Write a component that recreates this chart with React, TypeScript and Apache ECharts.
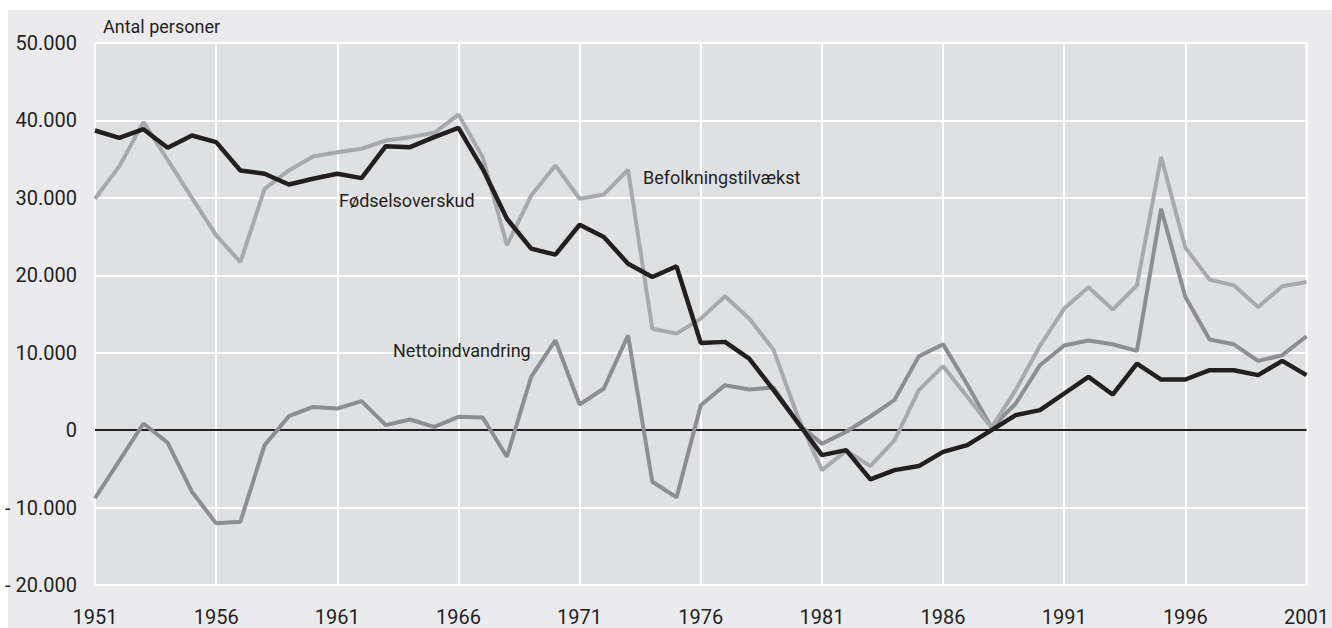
import React, { useEffect, useRef } from "react";
import * as echarts from "echarts";

const years = [
  "1951","1952","1953","1954","1955","1956","1957","1958","1959","1960",
  "1961","1962","1963","1964","1965","1966","1967","1968","1969","1970",
  "1971","1972","1973","1974","1975","1976","1977","1978","1979","1980",
  "1981","1982","1983","1984","1985","1986","1987","1988","1989","1990",
  "1991","1992","1993","1994","1995","1996","1997","1998","1999","2000","2001",
];

const foedselsoverskud = [
  38700, 37750, 38870, 36460, 38050, 37200, 33540, 33110, 31730, 32460,
  33110, 32550, 36680, 36550, 37840, 39040, 33750, 27300, 23440, 22660,
  26530, 24940, 21500, 19780, 21160, 11270, 11400, 9250, 5200, 1000,
  -3225, -2580, -6360, -5160, -4640, -2800, -1935, 0, 1935, 2580,
  4730, 6880, 4600, 8600, 6540, 6540, 7740, 7740, 7100, 8940, 7100,
];

const befolkningstilvaekst = [
  29890, 34060, 39780, 34900, 30000, 25150, 21700, 31170, 33540, 35350,
  35900, 36340, 37410, 37840, 38400, 40760, 35260, 23870, 30300, 34190,
  29890, 30440, 33630, 13100, 12470, 14400, 17300, 14430, 10400, 1800,
  -5160, -2670, -4640, -1290, 5160, 8260, 4300, 300, 5200, 10900,
  15700, 18450, 15570, 18700, 35260, 23560, 19440, 18700, 15910, 18580, 19140,
];

const nettoindvandring = [
  -8800, -3960, 860, -1630, -7950, -12040, -11830, -1935, 1800, 3000,
  2800, 3740, 645, 1376, 430, 1720, 1630, -3440, 6880, 11610,
  3310, 5375, 12260, -6670, -8690, 3225, 5810, 5260, 5510, 900,
  -1760, -200, 1760, 3920, 9550, 11080, 5900, 300, 3440, 8390,
  10930, 11570, 11090, 10230, 28600, 17200, 11700, 11090, 8940, 9680, 12130,
];

const seriesNames = ["Fødselsoverskud", "Befolkningstilvækst", "Nettoindvandring"];
const yTitle = "Antal personer";

const FONT = "Roboto";
const INK = "#231f20";

function fmt(v: number): string {
  if (v === 0) return "0";
  const a = Math.abs(v);
  const s = String(a).replace(/\B(?=(\d{3})+(?!\d))/g, ".");
  return v < 0 ? "- " + s : s;
}

export default function App() {
  const ref = useRef<HTMLDivElement>(null);
  useEffect(() => {
    if (!ref.current) return;
    const chart = echarts.init(ref.current, null, { renderer: "svg" });
    const lbl = (text: string, x: number, y: number) => ({
      type: "text",
      x,
      y,
      z: 100,
      style: { text, fontFamily: FONT, fontSize: 18, fill: INK, verticalAlign: "middle" },
    });
    chart.setOption({
      animation: false,
      backgroundColor: "#ffffff",
      textStyle: { fontFamily: FONT },
      graphic: [
        {
          type: "rect",
          z: -10,
          shape: { x: 8, y: 10, width: 1324, height: 618 },
          style: { fill: "#ebebed" },
        },
        lbl(yTitle, 103, 26),
        lbl(seriesNames[0], 339, 200),
        lbl(seriesNames[1], 643, 177),
        lbl(seriesNames[2], 393, 350),
      ],
      grid: {
        left: 95,
        top: 43,
        right: 21,
        bottom: 43,
        show: true,
        backgroundColor: "#dfe0e2",
        borderColor: "#ffffff",
        borderWidth: 2,
      },
      xAxis: {
        type: "category",
        data: years,
        boundaryGap: false,
        axisLine: { show: false },
        axisTick: { show: false },
        axisLabel: {
          interval: 4,
          margin: 22,
          fontSize: 20,
          color: INK,
          fontFamily: FONT,
        },
        splitLine: {
          show: true,
          interval: 4,
          lineStyle: { color: "#ffffff", width: 2 },
        },
      },
      yAxis: {
        type: "value",
        min: -20000,
        max: 50000,
        interval: 10000,
        axisLine: { show: false },
        axisTick: { show: false },
        axisLabel: {
          margin: 18,
          fontSize: 20,
          color: INK,
          fontFamily: FONT,
          formatter: (v: number) => fmt(v),
        },
        splitLine: { show: true, lineStyle: { color: "#ffffff", width: 2 } },
      },
      series: [
        {
          name: seriesNames[2],
          type: "line",
          data: nettoindvandring,
          symbol: "none",
          lineStyle: { color: "#8d8e91", width: 4 },
          z: 3,
          markLine: {
            silent: true,
            symbol: "none",
            label: { show: false },
            lineStyle: { color: INK, width: 2, type: "solid" },
            data: [{ yAxis: 0 }],
            z: 1,
          },
        },
        {
          name: seriesNames[1],
          type: "line",
          data: befolkningstilvaekst,
          symbol: "none",
          lineStyle: { color: "#a7a9ac", width: 4 },
          z: 4,
        },
        {
          name: seriesNames[0],
          type: "line",
          data: foedselsoverskud,
          symbol: "none",
          lineStyle: { color: INK, width: 4.5 },
          z: 5,
        },
      ],
    });
    return () => chart.dispose();
  }, []);
  return (
    <div
      ref={ref}
      style={{ position: "absolute", left: 0, top: 0, width: 1332, height: 628 }}
    />
  );
}
